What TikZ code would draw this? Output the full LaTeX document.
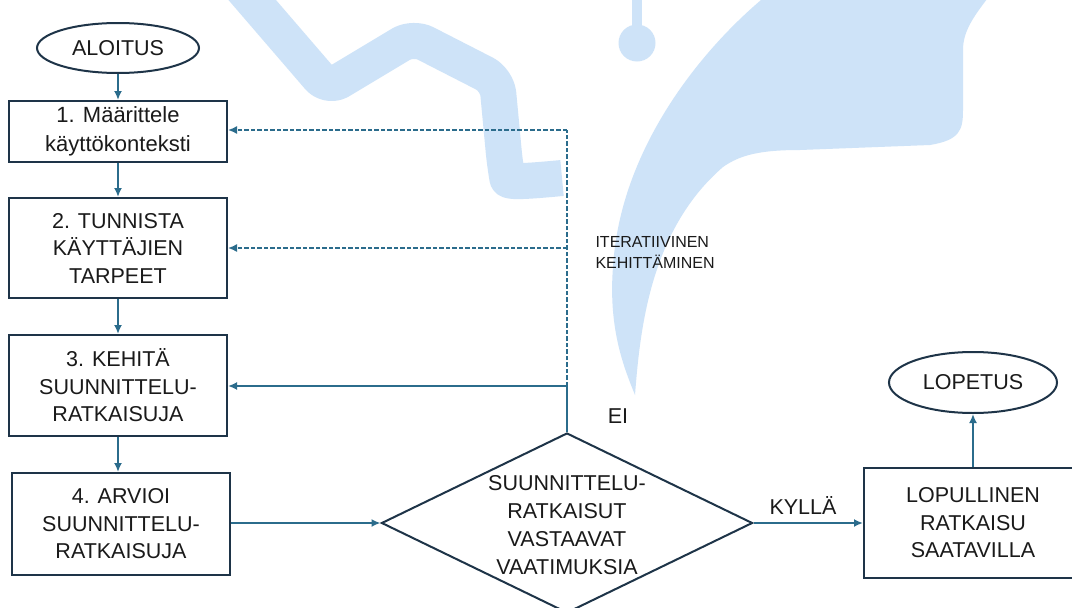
\documentclass[tikz,border=0pt]{standalone}
\usepackage{fontspec}
\setmainfont{Liberation Sans}
\usetikzlibrary{shapes.geometric,arrows.meta}
\definecolor{wmblue}{RGB}{206,227,248}
\definecolor{edge}{RGB}{30,52,72}
\definecolor{flowblue}{RGB}{43,108,140}
\definecolor{ink}{RGB}{26,26,26}
\tikzset{
  txt/.style={font=\fontsize{21.5}{27.5}\selectfont, text=ink, align=center},
  smalltxt/.style={font=\fontsize{16}{21}\selectfont, text=ink, align=left},
  stepbox/.style={draw=edge, line width=2pt, rectangle, minimum width=218pt, inner sep=0pt, txt},
  terminal/.style={draw=edge, line width=2pt, ellipse, inner sep=0pt, txt},
  decision/.style={draw=edge, line width=2pt, diamond, minimum width=371pt, minimum height=180pt, inner sep=0pt},
  tip/.style={-{Latex[length=9pt,width=8pt]}},
  flow/.style={draw=flowblue, line width=1.8pt},
  arrow/.style={flow, tip},
  loopback/.style={draw=flowblue, line width=1.6pt, dash pattern=on 4.5pt off 2pt},
}
\begin{document}
\begin{tikzpicture}[x=1pt, y=-1pt]
\useasboundingbox (0,0) rectangle (1072,608);
\fill[white] (0,0) rectangle (1072,608);

% light blue emblem in the background
\begin{scope}
  \draw[wmblue, line width=36pt, line join=round, line cap=butt, rounded corners=14pt]
    (235,-20) -- (328,88) -- (413,37) -- (497,80) -- (505,165)
    .. controls (508,182) and (520,182) .. (562,178);
  \draw[wmblue, line width=10pt] (637,-5) -- (637,30);
  \fill[wmblue] (637,43) circle (18.5);
  \fill[wmblue] (767,-5) .. controls (700,50) and (620,150) .. (613,267)
    .. controls (608,330) and (625,370) .. (635,395)
    .. controls (640,330) and (650,230) .. (723,167)
    .. controls (740,155) and (760,150) .. (800,150)
    -- (930,145) .. controls (960,140) and (963,130) .. (963,110)
    -- (963,50) .. controls (963,30) and (975,15) .. (990,-5) -- cycle;
\end{scope}

% process steps
\node[terminal, minimum width=162pt, minimum height=50pt] (start) at (118,48) {ALOITUS};
\node[stepbox, minimum height=61pt, font=\fontsize{22}{29}\selectfont] (s1) at (118,131.5) {1. Määrittele\\käyttökonteksti};
\node[stepbox, minimum height=100pt] (s2) at (118,248) {2. TUNNISTA\\KÄYTTÄJIEN\\TARPEET};
\node[stepbox, minimum height=101pt] (s3) at (118,385.5) {3. KEHITÄ\\SUUNNITTELU-\\RATKAISUJA};
\node[stepbox, minimum height=102pt] (s4) at (121,524) {4. ARVIOI\\SUUNNITTELU-\\RATKAISUJA};

% decision
\node[decision] (check) at (567,523) {};
\node[txt, font=\fontsize{21.5}{28}\selectfont] (checktext) at (567,525) {SUUNNITTELU-\\RATKAISUT\\VASTAAVAT\\VAATIMUKSIA};

% outcome
\node[stepbox, minimum height=110pt] (final) at (973,523) {LOPULLINEN\\RATKAISU\\SAATAVILLA};
\node[terminal, minimum width=168pt, minimum height=61pt] (stop) at (973,382.5) {LOPETUS};

% labels
\node[txt] (no) at (618,416) {EI};
\node[txt] (yes) at (803,505) {KYLLÄ};
\node[smalltxt, anchor=west] (iter) at (592,252.5) {ITERATIIVINEN\\KEHITTÄMINEN};

% feedback junctions
\coordinate (j1) at (567,130);
\coordinate (j2) at (567,248);
\coordinate (j3) at (567,386);

% main flow
\draw[arrow] (start) -- (s1);
\draw[arrow] (s1) -- (s2);
\draw[arrow] (s2) -- (s3);
\draw[arrow] (s3.south) -- (s3.south |- s4.north);
\draw[arrow] (s4.east |- check.west) -- (check.west);
\draw[arrow] (check.east) -- (final.west |- check.east);
\draw[arrow] (final.north) -- (stop.south);

% iteration loop
\draw[flow] (check.north) -- (j3);
\draw[arrow] (j3) -- (j3 -| s3.east);
\draw[loopback] (j3) -- (j1);
\draw[loopback, tip] (j1) -- (j1 -| s1.east);
\draw[loopback, tip] (j2) -- (j2 -| s2.east);
\end{tikzpicture}
\end{document}
